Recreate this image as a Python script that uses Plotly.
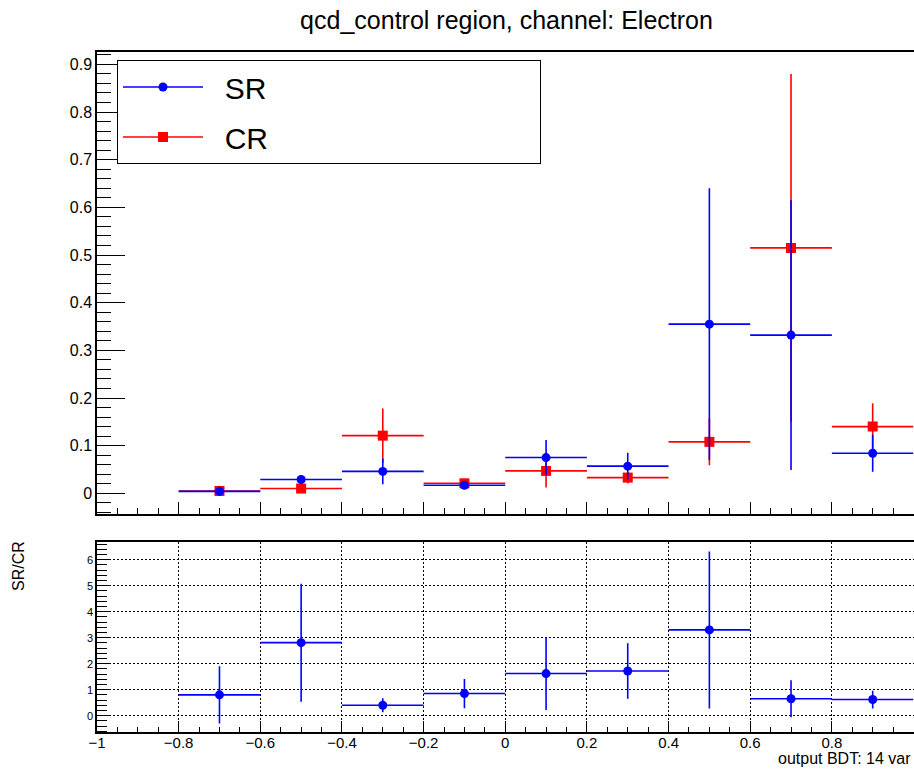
import plotly.graph_objects as go

# ---------------- data ----------------
bin_edges = [-0.8, -0.6, -0.4, -0.2, 0.0, 0.2, 0.4, 0.6, 0.8, 1.0]
sr_values = [0.004, 0.029, 0.046, 0.017, 0.075, 0.057, 0.355, 0.332, 0.084]
sr_errors = [0.003, 0.005, 0.027, 0.004, 0.037, 0.028, 0.285, 0.283, 0.039]
cr_values = [0.005, 0.010, 0.121, 0.021, 0.047, 0.033, 0.108, 0.515, 0.140]
cr_errors = [0.003, 0.006, 0.057, 0.004, 0.035, 0.012, 0.049, 0.365, 0.049]
ratio_values = [0.80, 2.81, 0.40, 0.85, 1.62, 1.72, 3.30, 0.65, 0.62]
ratio_errors = [1.10, 2.27, 0.27, 0.56, 1.40, 1.07, 3.02, 0.71, 0.34]
legend_names = ["SR", "CR"]

centers = [(a + b) / 2 for a, b in zip(bin_edges[:-1], bin_edges[1:])]
half_widths = [(b - a) / 2 for a, b in zip(bin_edges[:-1], bin_edges[1:])]

BLUE = "#0000ff"
RED = "#ff0000"
FONT = "Liberation Sans, Arial, Helvetica, sans-serif"
W, H = 914, 769
LEAD = "\u00a0" * 2
PAD = "\u00a0" * 32

fig = go.Figure()


def points(x, y, ey, color, symbol, size, xa, ya, name):
    return go.Scatter(
        x=x, y=y, mode="markers", name=name, showlegend=False,
        xaxis=xa, yaxis=ya,
        marker=dict(color=color, symbol=symbol, size=size, line=dict(width=0)),
        error_x=dict(type="data", array=half_widths, symmetric=True,
                     color=color, thickness=1.6, width=0),
        error_y=dict(type="data", array=ey, symmetric=True,
                     color=color, thickness=1.6, width=0),
        hoverinfo="skip",
    )


fig.add_trace(points(centers, cr_values, cr_errors, RED, "square", 10, "x", "y", "CR"))
fig.add_trace(points(centers, sr_values, sr_errors, BLUE, "circle", 9, "x", "y", "SR"))
fig.add_trace(points(centers, ratio_values, ratio_errors, BLUE, "circle", 9, "x2", "y2", "SR/CR"))

# legend entries
fig.add_trace(go.Scatter(x=[None], y=[None], mode="lines+markers",
                         name=LEAD + legend_names[0] + PAD,
                         legendgroup="a", xaxis="x", yaxis="y",
                         line=dict(color=BLUE, width=1.6),
                         marker=dict(color=BLUE, symbol="circle", size=9)))
fig.add_trace(go.Scatter(x=[None], y=[None], mode="lines+markers",
                         name=LEAD + legend_names[1] + PAD,
                         legendgroup="b", xaxis="x", yaxis="y",
                         line=dict(color=RED, width=1.6),
                         marker=dict(color=RED, symbol="square", size=10)))

x_dom = [97 / W, 913.5 / W]
top_dom = [1 - 514 / H, 1 - 52 / H]
bot_dom = [1 - 732.3 / H, 1 - 542.3 / H]

common_axis = dict(showline=True, linecolor="black", linewidth=1.5, mirror=True,
                   zeroline=False, ticks="inside", tickcolor="black", automargin=False)
DOTS = "1.5px,2.5px"

fig.update_layout(
    width=W, height=H,
    margin=dict(l=0, r=0, t=0, b=0, pad=0, autoexpand=False),
    paper_bgcolor="white", plot_bgcolor="white",
    font=dict(family=FONT, color="black"),
    title=dict(text="qcd_control region, channel: Electron",
               xref="container", yref="container",
               x=506.5 / W, xanchor="center", y=1 - 20 / H, yanchor="middle",
               automargin=False,
               font=dict(family=FONT, size=25, color="black")),
    xaxis=dict(domain=x_dom, anchor="y", range=[-1, 1], dtick=0.2, tick0=-1,
               showticklabels=False, ticklen=12, showgrid=False,
               minor=dict(ticks="inside", ticklen=6, dtick=0.05, tickcolor="black", showgrid=False),
               **common_axis),
    yaxis=dict(domain=top_dom, anchor="x", range=[-0.0434, 0.926], dtick=0.1, tick0=0,
               ticklen=28, showgrid=False,
               tickfont=dict(family=FONT, size=16, color="black"),
               minor=dict(ticks="inside", ticklen=14, dtick=0.02, tickcolor="black", showgrid=False),
               **common_axis),
    xaxis2=dict(domain=x_dom, anchor="y2", range=[-1, 1], dtick=0.2, tick0=-1,
                ticklen=12, showgrid=True, gridcolor="black", griddash=DOTS, gridwidth=1,
                tickfont=dict(family=FONT, size=15, color="black"),
                ticklabelstandoff=-4,
                minor=dict(ticks="inside", ticklen=6, dtick=0.05, tickcolor="black", showgrid=False),
                **common_axis),
    yaxis2=dict(domain=bot_dom, anchor="x2", range=[-0.64, 6.67], dtick=1, tick0=0,
                ticklen=13, showgrid=True, gridcolor="black", griddash=DOTS, gridwidth=1,
                tickfont=dict(family=FONT, size=11, color="black"),
                minor=dict(ticks="inside", ticklen=10, dtick=0.2, tickcolor="black", showgrid=False),
                **common_axis),
    legend=dict(x=117 / W, y=1 - 60 / H, xanchor="left", yanchor="top",
                bgcolor="white", bordercolor="black", borderwidth=1,
                font=dict(family=FONT, size=30, color="black"),
                itemwidth=80, tracegroupgap=8,
                itemclick=False, itemdoubleclick=False),
    annotations=[
        dict(text="SR/CR", textangle=-90, x=18 / W, y=1 - 566 / H,
             xref="paper", yref="paper", showarrow=False,
             xanchor="center", yanchor="middle",
             font=dict(family=FONT, size=16, color="black")),
        dict(text="output BDT: 14 var", x=913 / W, y=0,
             xref="paper", yref="paper", showarrow=False,
             xanchor="right", yanchor="bottom",
             font=dict(family=FONT, size=16, color="black")),
    ],
)

fig.write_html("out.html")
